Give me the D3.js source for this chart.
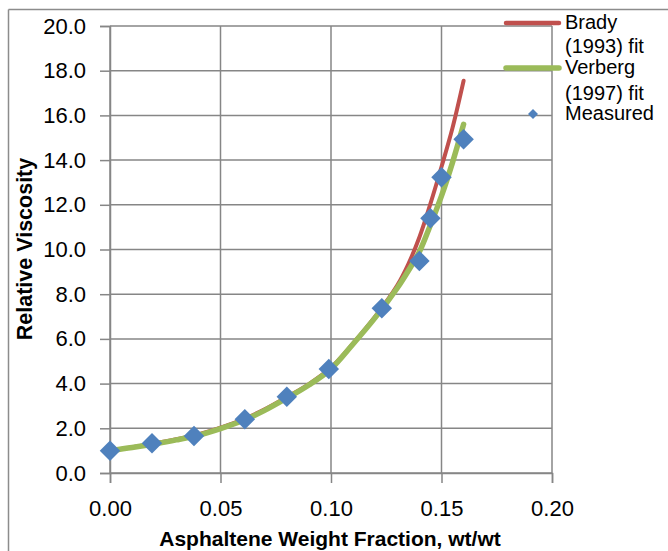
<!DOCTYPE html>
<html>
<head>
<meta charset="utf-8">
<script src="https://cdn.jsdelivr.net/npm/d3@7"></script>
<style>
  body { margin: 0; background: #fff; }
  text { font-family: "Liberation Sans", Arial, sans-serif; }
</style>
</head>
<body>
<div id="chart"></div>
<script>
// measured points
let measX = [0, 0.019, 0.038, 0.061, 0.080, 0.099, 0.123, 0.140, 0.145, 0.150, 0.160];
let measY = [1.00, 1.33, 1.66, 2.40, 3.41, 4.65, 7.37, 9.49, 11.40, 13.23, 14.93];

// fitted curves
let fitX = [0, 0.01, 0.02, 0.03, 0.04, 0.05, 0.06, 0.07, 0.08, 0.09, 0.10, 0.11, 0.12, 0.13, 0.135, 0.14, 0.145, 0.15, 0.155, 0.16];
let bradyY = [1.00, 1.15, 1.32, 1.51, 1.73, 2.03, 2.39, 2.85, 3.40, 3.98, 4.72, 5.80, 7.00, 8.40, 9.35, 10.55, 12.05, 13.70, 15.45, 17.55];
let verbergY = [1.00, 1.14, 1.30, 1.48, 1.69, 1.99, 2.34, 2.80, 3.35, 3.94, 4.66, 5.77, 6.95, 8.28, 9.05, 9.90, 11.10, 12.40, 13.90, 15.60];

let xTicks = [0, 0.05, 0.10, 0.15, 0.20];
let yTicks = [0, 2, 4, 6, 8, 10, 12, 14, 16, 18, 20];

let legendItems = [
    {name: ["Brady", "(1993) fit"], color: "#C0504D", type: "line"},
    {name: ["Verberg", "(1997) fit"], color: "#9BBB59", type: "line"},
    {name: ["Measured"], color: "#4F81BD", type: "diamond"}
];

let W = 668, H = 551;
let gridColor = "#868686";

let svg = d3.select("#chart").append("svg")
    .attr("width", W)
    .attr("height", H);

// outer frame (only top and left are visible in the crop)
svg.append("line").attr("x1", 8.5).attr("x2", W).attr("y1", 9.5).attr("y2", 9.5)
    .attr("stroke", "#8c8c8c").attr("stroke-width", 1.5);
svg.append("line").attr("x1", 8.5).attr("x2", 8.5).attr("y1", 9.5).attr("y2", H)
    .attr("stroke", "#8c8c8c").attr("stroke-width", 1.5);

let x = d3.scaleLinear().domain([0, 0.2]).range([110, 552]);
let y = d3.scaleLinear().domain([0, 20]).range([473, 26]);

// grid
svg.append("g").selectAll("line").data(yTicks).join("line")
    .attr("x1", x(0)).attr("x2", x(0.2))
    .attr("y1", d => y(d)).attr("y2", d => y(d))
    .attr("stroke", gridColor).attr("stroke-width", 1.5);
svg.append("g").selectAll("line").data(xTicks).join("line")
    .attr("x1", d => x(d)).attr("x2", d => x(d))
    .attr("y1", y(0)).attr("y2", y(20))
    .attr("stroke", gridColor).attr("stroke-width", 1.5);

// axes
let xAxis = svg.append("g")
    .attr("transform", "translate(0," + y(0) + ")")
    .call(d3.axisBottom(x).tickValues(xTicks).tickFormat(d3.format(".2f")).tickSizeOuter(0).tickSize(10).tickPadding(17));
let yAxis = svg.append("g")
    .attr("transform", "translate(" + x(0) + ",0)")
    .call(d3.axisLeft(y).tickValues(yTicks).tickFormat(d3.format(".1f")).tickSizeOuter(0).tickSize(10).tickPadding(14));

[xAxis, yAxis].forEach(a => {
    a.select(".domain").attr("stroke", gridColor).attr("stroke-width", 1.5);
    a.selectAll(".tick line").attr("stroke", gridColor).attr("stroke-width", 1.5);
    a.selectAll(".tick text")
        .attr("fill", "#000")
        .attr("font-size", "22px")
        .attr("font-family", "'Liberation Sans', Arial, sans-serif");
});

// axis titles
svg.append("text")
    .attr("x", 330).attr("y", 546)
    .attr("text-anchor", "middle")
    .attr("font-size", "21px")
    .attr("font-weight", "bold")
    .text("Asphaltene Weight Fraction, wt/wt");
svg.append("text")
    .attr("transform", "translate(32,249) rotate(-90)")
    .attr("text-anchor", "middle")
    .attr("font-size", "21.5px")
    .attr("font-weight", "bold")
    .text("Relative Viscosity");

// fitted curves
let line = d3.line()
    .x(d => x(d[0]))
    .y(d => y(d[1]))
    .curve(d3.curveCatmullRom.alpha(0.5));

svg.append("path")
    .datum(fitX.map((v, i) => [v, bradyY[i]]))
    .attr("d", line)
    .attr("fill", "none")
    .attr("stroke", "#C0504D")
    .attr("stroke-width", 4)
    .attr("stroke-linecap", "round");

svg.append("path")
    .datum(fitX.map((v, i) => [v, verbergY[i]]))
    .attr("d", line)
    .attr("fill", "none")
    .attr("stroke", "#9BBB59")
    .attr("stroke-width", 5.5)
    .attr("stroke-linecap", "round");

// measured diamonds
let diamond = d3.symbol().type(d3.symbolSquare).size(210);
svg.append("g").selectAll("path")
    .data(measX.map((v, i) => [v, measY[i]]))
    .join("path")
    .attr("d", diamond)
    .attr("transform", d => "translate(" + x(d[0]) + "," + y(d[1]) + ") rotate(45)")
    .attr("fill", "#4F81BD");

// legend
let legend = svg.append("g");
let legendRows = [
    {item: 0, lineY: 23, texts: [29, 53]},
    {item: 1, lineY: 68, texts: [74, 100]},
    {item: 2, lineY: 114, texts: [120]}
];
legendRows.forEach(r => {
    let it = legendItems[r.item];
    if (it.type === "line") {
        legend.append("line")
            .attr("x1", 506).attr("x2", 559)
            .attr("y1", r.lineY).attr("y2", r.lineY)
            .attr("stroke", it.color)
            .attr("stroke-width", it.color === "#9BBB59" ? 5.5 : 4.5)
            .attr("stroke-linecap", "round");
    } else {
        legend.append("path")
            .attr("d", d3.symbol().type(d3.symbolSquare).size(50))
            .attr("transform", "translate(533," + r.lineY + ") rotate(45)")
            .attr("fill", it.color);
    }
    it.name.forEach((t, j) => {
        legend.append("text")
            .attr("x", 565).attr("y", r.texts[j])
            .attr("font-size", "20px")
            .attr("fill", "#000")
            .text(t);
    });
});
</script>
</body>
</html>
